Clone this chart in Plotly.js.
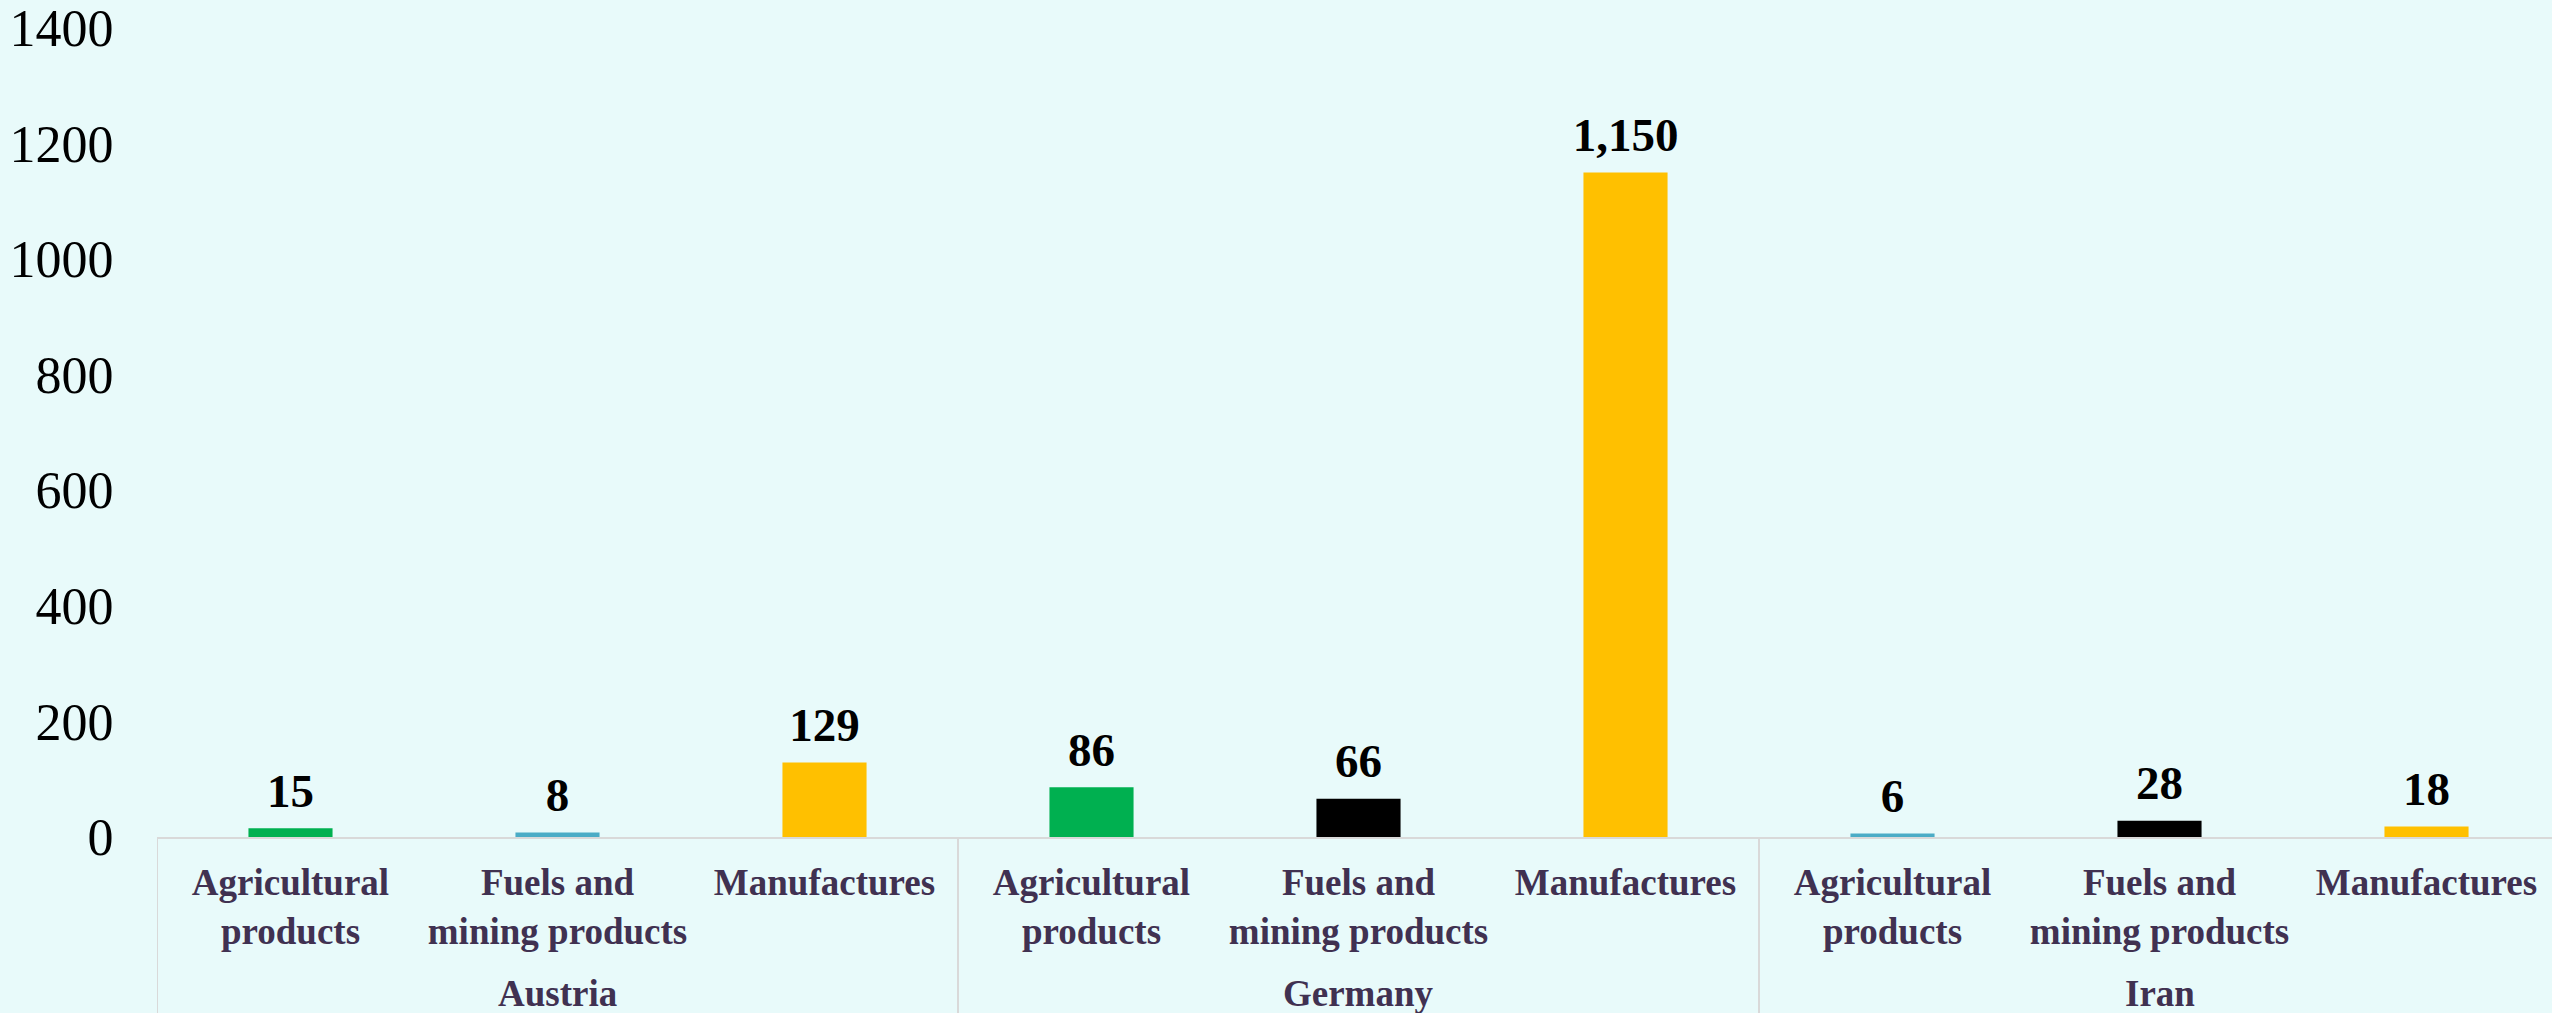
<!DOCTYPE html>
<html>
<head>
<meta charset="utf-8">
<script src="https://cdn.plot.ly/plotly-3.0.1.min.js"></script>
<style>
html,body{margin:0;padding:0;background:#E8FAFA;overflow:hidden;}
#chart{width:2552px;height:1013px;}
</style>
</head>
<body>
<div id="chart"></div>
<script>
// ---- data ----
const countries = ['Austria','Austria','Austria','Germany','Germany','Germany','Iran','Iran','Iran'];
const products = [
  'Agricultural<br>products','Fuels and<br>mining products','Manufactures',
  'Agricultural<br>products','Fuels and<br>mining products','Manufactures',
  'Agricultural<br>products','Fuels and<br>mining products','Manufactures'
];
const values = [15, 8, 129, 86, 66, 1150, 6, 28, 18];
const valueLabels = ['15','8','129','86','66','1,150','6','28','18'];
const yTicks = [0, 200, 400, 600, 800, 1000, 1200, 1400];

// ---- styles ----
const barColors = ['#00B050','#4BACC6','#FFC000','#00B050','#000000','#FFC000','#4BACC6','#000000','#FFC000'];
const serif = '"Times New Roman", "Liberation Serif", serif';
const labelColor = '#403151';
const lineColor = '#D9D9D9';

// positions along the category axis: one slot per bar
const xs = values.map((v, i) => i);

// groups (countries) derived from the data
const groupNames = [];
const groupIdx = {};
countries.forEach((c, i) => {
  if (!(c in groupIdx)) { groupIdx[c] = []; groupNames.push(c); }
  groupIdx[c].push(i);
});

const groupAnnotations = groupNames.map(g => {
  const idx = groupIdx[g];
  const mid = (idx[0] + idx[idx.length - 1]) / 2;
  return {
    x: mid, xref: 'x',
    y: -0.193, yref: 'paper',
    xanchor: 'center', yanchor: 'middle',
    text: g, showarrow: false,
    font: {family: serif, size: 37, color: labelColor, weight: 'bold'}
  };
});

const boundaries = [-0.5];
groupNames.forEach(g => { const idx = groupIdx[g]; boundaries.push(idx[idx.length - 1] + 0.5); });
const dividerShapes = boundaries.map(b => ({
  type: 'line', xref: 'x', yref: 'paper',
  x0: b, x1: b, y0: 0, y1: -0.3,
  line: {color: lineColor, width: 2},
  layer: 'above'
}));

const bars = {
  type: 'bar',
  x: xs,
  y: values,
  marker: {color: barColors, line: {width: 0}},
  hoverinfo: 'skip',
  showlegend: false
};

const labelsTrace = {
  type: 'scatter',
  mode: 'markers+text',
  x: xs,
  y: values,
  text: valueLabels,
  textposition: 'top center',
  textfont: {family: serif, size: 47, color: '#000000', weight: 'bold'},
  marker: {size: 14, opacity: 0},
  cliponaxis: false,
  hoverinfo: 'skip',
  showlegend: false
};

const layout = {
  width: 2552,
  height: 1013,
  paper_bgcolor: '#E8FAFA',
  plot_bgcolor: '#E8FAFA',
  margin: {l: 157, r: 0, t: 28, b: 176, pad: 0},
  bargap: 0.685,
  showlegend: false,
  annotations: groupAnnotations,
  shapes: dividerShapes,
  xaxis: {
    range: [-0.5, 8.47],
    tickmode: 'array',
    tickvals: xs,
    ticktext: products,
    showline: true,
    linecolor: lineColor,
    linewidth: 2,
    showgrid: false,
    zeroline: false,
    ticks: 'outside',
    ticklen: 12,
    tickcolor: 'rgba(0,0,0,0)',
    tickangle: 0,
    automargin: false,
    tickfont: {family: serif, size: 37, color: labelColor, weight: 'bold'}
  },
  yaxis: {
    range: [0, 1400],
    tickmode: 'array',
    tickvals: yTicks,
    ticktext: yTicks.map(String),
    showline: false,
    showgrid: false,
    zeroline: false,
    ticks: 'outside',
    ticklen: 32,
    tickcolor: 'rgba(0,0,0,0)',
    automargin: false,
    tickfont: {family: serif, size: 52, color: '#000000'}
  }
};

Plotly.newPlot('chart', [bars, labelsTrace], layout, {staticPlot: true, displayModeBar: false});
</script>
</body>
</html>
